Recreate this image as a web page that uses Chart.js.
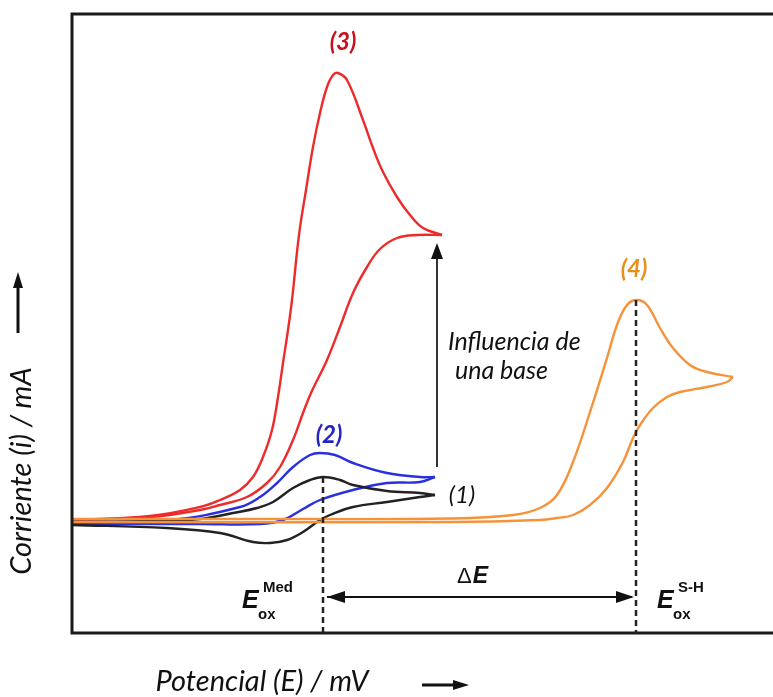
<!DOCTYPE html>
<html>
<head>
<meta charset="utf-8">
<script src="https://cdn.jsdelivr.net/npm/chart.js@4.4.0/dist/chart.umd.min.js"></script>
<style>
  body { margin: 0; background: #fff; }
  canvas { display: block; }
</style>
</head>
<body>
<canvas id="myChart" width="773" height="697"></canvas>
<script>
// cyclic voltammograms, potential (relative mV) vs current (arb. units)
// each loop split in forward / reverse branch, both listed left to right
const curve1Forward = [[0,-1],[78,0],[128,2],[161,8],[185,13],[201,19],[221,33],[238,41],[251,44],[268,41],[281,36],[315,30],[348,28],[363,26]];
const curve1Reverse = [[0,-4],[95,-7],[148,-12],[181,-21],[198,-22],[215,-19],[231,-11],[248,1],[258,6],[281,14],[315,19],[348,24],[363,26]];
const curve2Forward = [[0,-1],[98,1],[168,14],[188,24],[205,38],[221,54],[238,66],[248,68],[263,66],[281,58],[315,48],[348,44],[363,44]];
const curve2Reverse = [[0,-3],[128,-3],[188,-3],[211,1],[231,12],[248,21],[281,31],[315,38],[348,39],[363,44]];
const curve3Forward = [[0,1],[78,5],[128,14],[148,21],[168,31],[181,44],[191,64],[200,91],[206,124],[211,158],[216,191],[220,221],[227,286],[234,331],[241,374],[248,408],[255,434],[261,446],[266,448],[275,441],[291,401],[301,373],[311,349],[325,324],[338,306],[351,293],[370,286]];
const curve3Reverse = [[0,1],[78,4],[128,11],[148,16],[175,24],[195,38],[208,54],[221,81],[231,108],[239,128],[255,161],[268,194],[281,228],[295,254],[308,272],[325,283],[345,286],[370,286]];
const curve4Forward = [[0,2],[228,2],[378,2.5],[441,6],[468,13],[485,26],[501,59],[518,109],[535,163],[545,196],[555,216],[565,221],[575,216],[588,193],[601,173],[618,156],[635,149],[661,144]];
const curve4Reverse = [[0,-1],[378,-1],[468,1],[485,3],[501,6],[518,16],[535,33],[551,59],[561,83],[568,96],[581,113],[595,124],[608,129],[635,134],[655,139],[661,144]];

const xRange = [0, 701];
const yRange = [-112, 507];
const eMed = 251;      // E_ox Med
const eSH = 564;       // E_ox S-H
const peak1 = 44;      // current at black peak
const peak4 = 221;     // current at orange peak

const RED = '#ee2b2b', BLUE = '#2a2fe0', BLACK = '#222222', ORANGE = '#f5923a';

const toXY = (arr) => arr.map(([x, y]) => ({ x: x, y: y }));
const branch = (data, color) => ({
  data: toXY(data),
  borderColor: color,
  borderWidth: 2.4,
  pointRadius: 0,
  tension: 0.4,
  fill: false
});

const arrowHead = (ctx, x, y, dx, dy, len, half) => {
  ctx.beginPath();
  ctx.moveTo(x, y);
  ctx.lineTo(x - dx * len - dy * half, y - dy * len + dx * half);
  ctx.lineTo(x - dx * len + dy * half, y - dy * len - dx * half);
  ctx.closePath();
  ctx.fill();
}

const drawE = (ctx, x, y, sup, sub) => {
  ctx.textAlign = 'left';
  ctx.textBaseline = 'alphabetic';
  ctx.font = 'italic bold 25px "Liberation Sans"';
  ctx.fillText('E', x, y);
  ctx.font = 'bold 15px "Liberation Sans"';
  ctx.fillText(sup, x + 21, y - 16);
  ctx.fillText(sub, x + 16, y + 11);
}

const decorations = {
  id: 'decorations',
  afterDatasetsDraw(chart) {
    const ctx = chart.ctx;
    const xs = chart.scales.x, ys = chart.scales.y;
    const a = chart.chartArea;
    const px = (v) => xs.getPixelForValue(v);
    const py = (v) => ys.getPixelForValue(v);
    ctx.save();

    // frame (right side cut off)
    ctx.strokeStyle = '#1a1a1a';
    ctx.lineWidth = 3;
    ctx.beginPath();
    ctx.moveTo(a.right, a.top);
    ctx.lineTo(a.left, a.top);
    ctx.lineTo(a.left, a.bottom);
    ctx.lineTo(a.right, a.bottom);
    ctx.stroke();

    // dashed potential markers
    ctx.setLineDash([6, 4]);
    ctx.lineWidth = 2.5;
    ctx.strokeStyle = '#222';
    [[eMed, peak1], [eSH, peak4]].forEach(([e, p]) => {
      ctx.beginPath();
      ctx.moveTo(px(e), py(p));
      ctx.lineTo(px(e), a.bottom);
      ctx.stroke();
    });
    ctx.setLineDash([]);

    // delta E arrow
    ctx.fillStyle = '#111';
    ctx.strokeStyle = '#111';
    ctx.lineWidth = 2;
    const yd = py(-76);
    ctx.beginPath();
    ctx.moveTo(px(eMed) + 4, yd);
    ctx.lineTo(px(eSH) - 4, yd);
    ctx.stroke();
    arrowHead(ctx, px(eMed) + 4, yd, -1, 0, 18, 6);
    arrowHead(ctx, px(eSH) - 2, yd, 1, 0, 18, 6);

    // base influence arrow
    ctx.strokeStyle = '#333';
    ctx.fillStyle = '#111';
    const xa = px(365);
    ctx.beginPath();
    ctx.moveTo(xa, py(54));
    ctx.lineTo(xa, py(268));
    ctx.stroke();
    arrowHead(ctx, xa, py(278), 0, -1, 16, 6);

    // curve labels
    ctx.textAlign = 'center';
    ctx.textBaseline = 'middle';
    ctx.font = 'italic bold 24px Lato';
    ctx.fillStyle = '#c8101c';
    ctx.fillText('(3)', px(271), py(479));
    ctx.fillStyle = '#2424c4';
    ctx.fillText('(2)', px(257), py(86));
    ctx.fillStyle = '#e8901c';
    ctx.fillText('(4)', px(562), py(252));
    ctx.fillStyle = '#111';
    ctx.font = 'italic 24px Lato';
    ctx.fillText('(1)', px(390), py(26));

    ctx.textAlign = 'left';
    ctx.font = 'italic 25px Lato';
    ctx.fillText('Influencia de', px(376), py(179));
    ctx.fillText('una base', px(383), py(150));

    // delta E label
    ctx.textBaseline = 'alphabetic';
    ctx.font = '22px "Liberation Sans"';
    const dW = ctx.measureText('\u0394').width;
    ctx.fillText('\u0394', px(385), py(-62));
    ctx.font = 'italic bold 23px "Liberation Sans"';
    ctx.fillText('E', px(385) + dW + 1, py(-62));

    drawE(ctx, px(170), py(-87), 'Med', 'ox');
    drawE(ctx, px(585), py(-87), 'S-H', 'ox');

    // axis titles
    ctx.fillStyle = '#111';
    ctx.font = 'italic 29px Lato';
    ctx.textAlign = 'center';
    ctx.textBaseline = 'middle';
    ctx.fillText('Potencial (E) / mV', 262, 682);
    ctx.save();
    ctx.translate(22, 471);
    ctx.rotate(-Math.PI / 2);
    ctx.fillText('Corriente (i) / mA', 0, 0);
    ctx.restore();

    // axis arrows
    ctx.strokeStyle = '#111';
    ctx.lineWidth = 3;
    ctx.beginPath();
    ctx.moveTo(18, 333);
    ctx.lineTo(18, 285);
    ctx.stroke();
    arrowHead(ctx, 18, 272, 0, -1, 16, 5);
    ctx.beginPath();
    ctx.moveTo(422, 685);
    ctx.lineTo(455, 685);
    ctx.stroke();
    arrowHead(ctx, 469, 685, 1, 0, 16, 5);

    ctx.restore();
  }
};

const generateChart = () => {
  const ctx = document.getElementById('myChart').getContext('2d');
  return new Chart(ctx, {
    type: 'line',
    data: {
      datasets: [
        branch(curve4Forward, ORANGE),
        branch(curve4Reverse, ORANGE),
        branch(curve1Forward, BLACK),
        branch(curve1Reverse, BLACK),
        branch(curve2Forward, BLUE),
        branch(curve2Reverse, BLUE),
        branch(curve3Forward, RED),
        branch(curve3Reverse, RED)
      ]
    },
    options: {
      responsive: false,
      animation: false,
      devicePixelRatio: 1,
      layout: { padding: { left: 72, top: 14, right: 0, bottom: 64 } },
      plugins: { legend: { display: false }, tooltip: { enabled: false } },
      scales: {
        x: { type: 'linear', min: xRange[0], max: xRange[1], display: false },
        y: { type: 'linear', min: yRange[0], max: yRange[1], display: false }
      }
    },
    plugins: [decorations]
  });
}

generateChart();
</script>
</body>
</html>
